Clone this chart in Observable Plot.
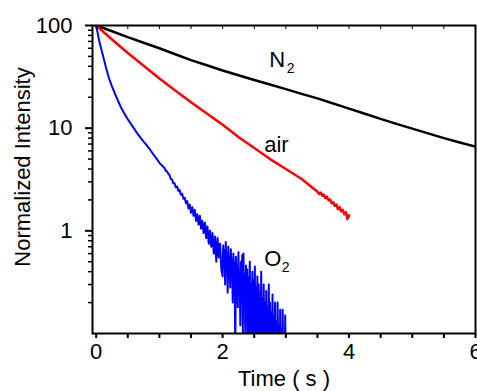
<!DOCTYPE html>
<html><head><meta charset="utf-8">
<script src="https://cdn.jsdelivr.net/npm/d3@7"></script>
<script src="https://cdn.jsdelivr.net/npm/@observablehq/plot@0.6"></script>
<style>body{margin:0;background:#fff}</style>
</head><body><div id="chart"></div>
<script>
// Axis ticks
const xTickLabels = [0, 2, 4, 6];
const xTicks = [0, 0.5, 1, 1.5, 2, 2.5, 3, 3.5, 4, 4.5, 5, 5.5, 6];
const yTickLabels = [1, 10, 100];
const yMinorTicks = [0.2, 0.3, 0.4, 0.5, 0.6, 0.7, 0.8, 0.9, 2, 3, 4, 5, 6, 7, 8, 9, 20, 30, 40, 50, 60, 70, 80, 90];

// N2 series (black)
const n2Time = [0, 0.1, 0.25, 0.5, 0.75, 1, 1.25, 1.5, 1.75, 2, 2.25, 2.5, 2.75, 3, 3.25, 3.5, 3.75, 4, 4.25, 4.5, 4.75, 5, 5.25, 5.5, 5.75, 6];
const n2Value = [100, 95, 88, 77, 68, 60, 52.5, 46, 41, 36.5, 32.8, 29.5, 26.6, 24, 21.6, 19.5, 17.4, 15.5, 13.8, 12.3, 11, 9.9, 8.9, 8.0, 7.25, 6.6];

// air series (red)
const airTime = [0, 0.25, 0.5, 0.75, 1, 1.25, 1.5, 1.75, 2, 2.25, 2.5, 2.75, 3, 3.25, 3.5, 3.525, 3.55, 3.575, 3.6, 3.625, 3.65, 3.675, 3.7, 3.725, 3.75, 3.775, 3.8, 3.825, 3.85, 3.875, 3.9, 3.925, 3.95, 3.975, 4.0];
const airValue = [100, 73, 54, 40.5, 30.5, 23.3, 17.9, 13.9, 10.8, 8.2, 6.4, 5.0, 4.0, 3.2, 2.4, 2.28, 2.36, 2.2, 2.25, 2.08, 2.15, 1.98, 2.02, 1.86, 1.9, 1.75, 1.8, 1.62, 1.7, 1.55, 1.6, 1.45, 1.52, 1.3, 1.42];

// O2 series (blue)
const o2Time = [0, 0.05, 0.1, 0.15, 0.2, 0.25, 0.3, 0.35, 0.4, 0.45, 0.5, 0.55, 0.6, 0.65, 0.7, 0.75, 0.8, 0.85, 0.9, 0.95, 1.0,
  1.02, 1.04, 1.06, 1.08, 1.10, 1.12, 1.14, 1.16, 1.18, 1.20, 1.22, 1.24, 1.26, 1.28, 1.30, 1.32, 1.34, 1.36, 1.38, 1.40,
  1.42, 1.44, 1.46, 1.48, 1.50, 1.52, 1.54, 1.56, 1.58, 1.60, 1.62, 1.64, 1.66, 1.68, 1.70, 1.72, 1.74, 1.76, 1.78, 1.80,
  1.82, 1.84, 1.86, 1.88, 1.90, 1.92, 1.94, 1.96, 1.98,
  2.00, 2.01, 2.02, 2.03, 2.04, 2.05, 2.06, 2.07, 2.08, 2.09, 2.10, 2.11, 2.12, 2.13, 2.14, 2.15, 2.16, 2.17, 2.18, 2.19,
  2.20, 2.21, 2.22, 2.23, 2.24, 2.25, 2.26, 2.27, 2.28, 2.29, 2.30, 2.31, 2.32, 2.33, 2.34, 2.35, 2.36, 2.37, 2.38, 2.39,
  2.40, 2.41, 2.42, 2.43, 2.44, 2.45, 2.46, 2.47, 2.48, 2.49, 2.50, 2.51, 2.52, 2.53, 2.54, 2.55, 2.56, 2.57, 2.58, 2.59,
  2.60, 2.61, 2.62, 2.63, 2.64, 2.65, 2.66, 2.67, 2.68, 2.69, 2.70, 2.71, 2.72, 2.73, 2.74, 2.75, 2.76, 2.77, 2.78, 2.79,
  2.80, 2.81, 2.82, 2.83, 2.84, 2.85, 2.86, 2.87, 2.88, 2.89, 2.90, 2.91, 2.92, 2.93, 2.94, 2.95, 2.96, 2.97, 2.98, 2.99, 3.00];
const o2Value = [100, 70, 53, 40, 31, 25.5, 21.5, 18.2, 15.6, 13.7, 12.2, 11, 9.9, 8.9, 8.1, 7.4, 6.8, 6.2, 5.6, 5.1, 4.6,
  4.45, 4.35, 4.2, 4.1, 3.85, 3.8, 3.6, 3.5, 3.2, 3.15, 2.9, 2.9, 2.65, 2.7, 2.45, 2.5, 2.25, 2.3, 2.05, 2.1,
  1.85, 1.95, 1.65, 1.8, 1.5, 1.7, 1.4, 1.6, 1.25, 1.45, 1.15, 1.4, 1.05, 1.25, 0.95, 1.2, 0.85, 1.1, 0.75, 1.0,
  0.7, 0.95, 0.6, 0.88, 0.5, 0.85, 0.55, 0.75, 0.42,
  0.36, 0.72, 0.45, 0.65, 0.3, 0.78, 0.42, 0.6, 0.25, 0.7, 0.35, 0.55, 0.28, 0.66, 0.4, 0.52, 0.2, 0.6, 0.33, 0.48,
  0.06, 0.56, 0.3, 0.45, 0.18, 0.62, 0.27, 0.4, 0.12, 0.5, 0.22, 0.58, 0.1, 0.6, 0.2, 0.38, 0.07, 0.46, 0.16, 0.42,
  0.05, 0.35, 0.14, 0.5, 0.04, 0.3, 0.12, 0.4, 0.03, 0.33, 0.09, 0.45, 0.04, 0.28, 0.1, 0.36, 0.02, 0.3, 0.08, 0.25,
  0.03, 0.4, 0.06, 0.22, 0.02, 0.3, 0.07, 0.2, 0.03, 0.26, 0.05, 0.18, 0.02, 0.3, 0.06, 0.2, 0.02, 0.16, 0.05, 0.24,
  0.02, 0.15, 0.04, 0.2, 0.03, 0.13, 0.02, 0.2, 0.04, 0.12, 0.02, 0.17, 0.03, 0.11, 0.02, 0.17, 0.04, 0.1, 0.02, 0.15, 0.04];

// In-plot labels
const annText = ["N", "air", "O"];
const annSub = ["2", "", "2"];
const annTime = [2.737, 2.657, 2.657];
const annValue = [39.1, 5.85, 0.452];

const rows = (ts, vs) => ts.map((t, i) => ({t, v: vs[i]}));
const n2Rows = rows(n2Time, n2Value);
const airRows = rows(airTime, airValue);
const o2Rows = rows(o2Time, o2Value);
const annRows = annText.map((s, i) => ({s, sub: annSub[i], t: annTime[i], v: annValue[i]}));

const chart = Plot.plot({
  width: 477, height: 391,
  marginLeft: 92, marginRight: 2, marginTop: 25, marginBottom: 58,
  style: {fontFamily: "'Liberation Sans', Arial, sans-serif", fontSize: "22px", background: "#fff", color: "#000"},
  x: {domain: [-0.058, 6], label: null},
  y: {type: "log", domain: [0.1, 100], label: null},
  marks: [
    Plot.line(n2Rows, {x: "t", y: "v", stroke: "#000", strokeWidth: 2.5, clip: true}),
    Plot.line(airRows, {x: "t", y: "v", stroke: "#ff0000", strokeWidth: 2.5, clip: true}),
    Plot.line(o2Rows, {x: "t", y: "v", stroke: "#0000ff", strokeWidth: 2, clip: true}),
    Plot.frame({stroke: "#000", strokeWidth: 2}),
    Plot.axisX({ticks: xTicks, tickSize: 5, strokeWidth: 2, tickFormat: () => "", label: null}),
    Plot.axisX({ticks: xTickLabels, tickSize: 0, tickPadding: 10, tickFormat: d => String(d), label: null, fontSize: 22}),
    Plot.axisX({anchor: "top", ticks: xTicks, tickSize: 3, dy: 3, strokeWidth: 1, tickFormat: () => "", label: null}),
    Plot.axisY({ticks: yTickLabels, tickSize: 7, tickPadding: 13, strokeWidth: 2, tickFormat: d => String(d), label: null, fontSize: 22}),
    Plot.axisY({ticks: yMinorTicks, tickSize: 4, strokeWidth: 1.5, tickFormat: () => "", label: null}),
    Plot.text(annRows, {x: "t", y: "v", text: "s", textAnchor: "start", lineAnchor: "bottom", fontSize: 22}),
    Plot.text(annRows, {x: "t", y: "v", text: "sub", textAnchor: "start", lineAnchor: "bottom", fontSize: 14, dx: 17.5, dy: 5.5}),
    Plot.text(["Normalized Intensity"], {frameAnchor: "left", text: d => d, rotate: -90, textAnchor: "middle", lineAnchor: "bottom", dx: -63, dy: -12.5, fontSize: 22}),
    Plot.text(["Time ( s )"], {frameAnchor: "bottom", text: d => d, lineAnchor: "top", dy: 37, fontSize: 22})
  ]
});
document.getElementById("chart").appendChild(chart);
</script>
</body></html>
